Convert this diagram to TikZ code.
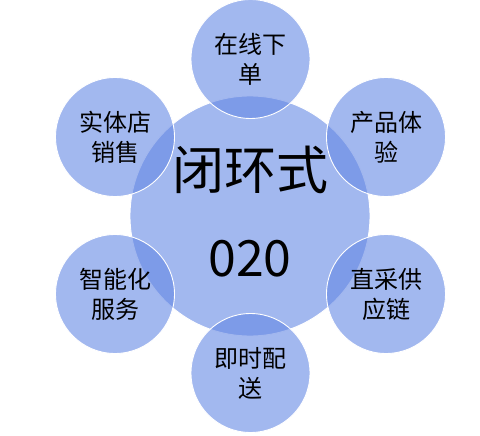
\documentclass[tikz,border=0pt]{standalone}
\usepackage{fontspec}
\setmainfont{Noto Sans CJK SC}
\usepackage{tikz}
\usetikzlibrary{positioning, calc, shapes}
\definecolor{bubble}{RGB}{100,136,228}
\tikzstyle{Bubble} = [
circle,
inner sep=0pt,
fill=bubble,
fill opacity=0.6,
text opacity=1,
draw=white,
line width=0.9pt,
align=center,
font=\fontsize{24}{30}\selectfont]

\begin{document}
\begin{tikzpicture}[x=1pt, y=-1pt]
    \useasboundingbox (0,0) rectangle (480,436);
    \node [Bubble, minimum size=240pt] (0) at (250,216) {};
    \node at (250,170) (01) {\fontsize{52}{52}\selectfont 闭环式};
    \node at (250,259) (02) {\fontsize{50}{50}\selectfont 020};
    \node [Bubble, minimum size=119pt] (1) at (250.5,59) {在线下\\单};
    \node [Bubble, minimum size=119pt] (2) at (386,137) {产品体\\验};
    \node [Bubble, minimum size=119pt] (3) at (386,294) {直采供\\应链};
    \node [Bubble, minimum size=119pt] (4) at (250.5,373) {即时配\\送};
    \node [Bubble, minimum size=119pt] (5) at (115,294) {智能化\\服务};
    \node [Bubble, minimum size=119pt] (6) at (115,137) {实体店\\销售};
\end{tikzpicture}
\end{document}
